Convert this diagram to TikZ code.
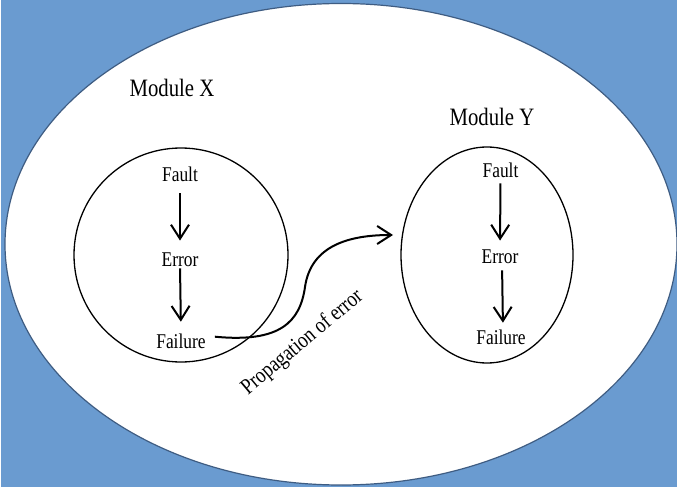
\documentclass[tikz,border=0pt]{standalone}
\usepackage{fontspec}
\setmainfont[FakeStretch=0.83]{Liberation Serif}
\usetikzlibrary{arrows.meta,shapes.geometric}
\definecolor{bgblue}{RGB}{106,155,208}
\definecolor{rimblue}{RGB}{62,92,130}
\tikzset{
  lbl/.style={inner sep=0pt, anchor=base, font=\fontsize{21}{24}\selectfont},
  modlbl/.style={inner sep=0pt, anchor=base, font=\fontsize{25}{28}\selectfont},
  modring/.style={draw=black, line width=1.3pt, inner sep=0pt},
  flow/.style={line width=2pt, -{Straight Barb[length=14pt,width=18pt,line width=2pt]}},
}
\begin{document}
\begin{tikzpicture}[x=1pt,y=-1pt]
\useasboundingbox (0,0) rectangle (677,489);
\fill[bgblue] (1,0) rectangle (677,487);
\draw[fill=white, draw=rimblue, line width=1.2pt] (341,244.25) ellipse [x radius=336, y radius=240.75];

% modules
\node[modring, circle, minimum size=214pt] (mx) at (181,255) {};
\node[modring, ellipse, minimum width=172pt, minimum height=216pt] (my) at (487,255) {};

\node[modlbl] (tx) at (172,96.5) {Module X};
\node[modlbl] (ty) at (492,126) {Module Y};

% module X contents
\node[lbl] (fx) at (180,182) {Fault};
\node[lbl] (ex) at (180,266) {Error};
\node[lbl] (lx) at (181,348) {Failure};
\draw[flow, shorten <=11pt, shorten >=11.5pt] (fx.south) -- (ex.north);
\draw[flow, shorten <=2pt, shorten >=11.5pt] (ex.south) -- (lx.north);

% module Y contents
\node[lbl] (fy) at (500.5,178) {Fault};
\node[lbl] (ey) at (500,263) {Error};
\node[lbl] (ly) at (501,344) {Failure};
\draw[flow, shorten <=5pt, shorten >=8.5pt] (fy.south) -- (ey.north);
\draw[flow, shorten <=7pt, shorten >=6.5pt] ([xshift=2pt]ey.south) -- ([xshift=2pt]ly.north);

% propagation
\coordinate (ptip) at (393,235);
\draw[flow, shorten <=9pt] ([yshift=5pt]lx.east) .. controls (280,343) and (300,322) .. (305,287)
   .. controls (311,245) and (350,235) .. (ptip);
\node[lbl, font=\fontsize{22.5}{24}\selectfont, rotate=40] (pe) at (306,347) {Propagation of error};
\end{tikzpicture}
\end{document}
